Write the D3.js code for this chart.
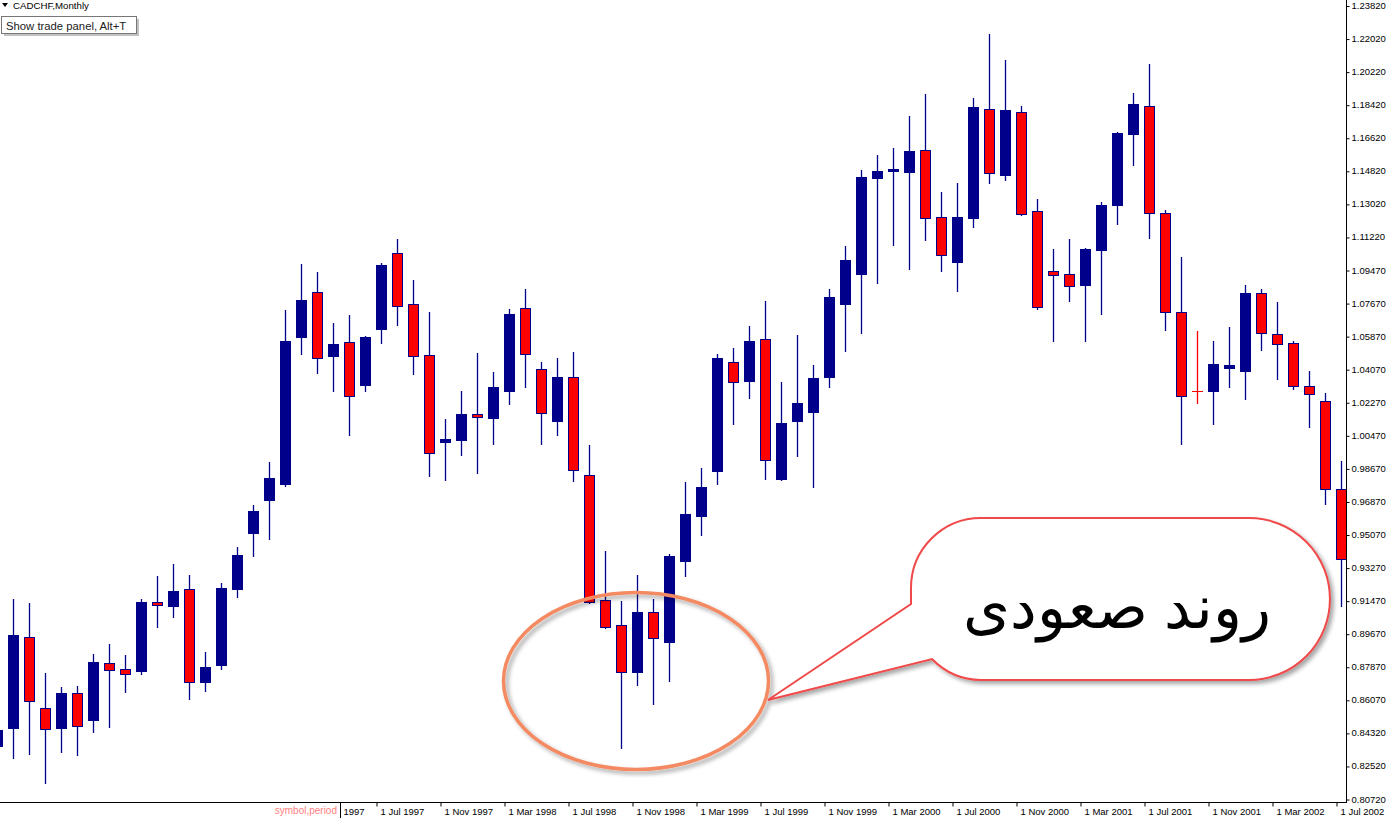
<!DOCTYPE html>
<html><head><meta charset="utf-8">
<script src="https://cdn.jsdelivr.net/npm/d3@7"></script>
<style>
html,body{margin:0;padding:0;background:#fff;overflow:hidden}
svg{display:block}
text{font-family:"Liberation Sans",Arial,sans-serif}
</style></head><body>
<svg id="chart" width="1386" height="818"></svg>
<script>
// ---- data (monthly CADCHF candles, Jul 1995 .. Jul 2002) ----
const firstMonth = "1995-07";
const lastMonth = "2002-07";
const openP = [0.8360,0.8457,0.8952,0.8566,0.8457,0.8648,0.8501,0.8810,0.8778,0.8767,
0.9142,0.9120,0.9212,0.8707,0.8800,0.9212,0.9517,0.9696,0.9783,1.0581,
1.0826,1.0478,1.0554,1.0321,1.0625,1.1038,1.0761,1.0484,1.0011,1.0022,
1.0163,1.0141,1.0288,1.0739,1.0408,1.0125,1.0364,0.9832,0.9153,0.9017,
0.8762,0.9088,0.8925,0.9365,0.9609,0.9853,1.0446,1.0342,1.0570,0.9810,
1.0125,1.0174,1.0364,1.0761,1.0924,1.1445,1.1483,1.1478,1.1597,1.1233,
1.0989,1.1228,1.1820,1.1461,1.1804,1.1266,1.0940,1.0924,1.0864,1.1054,
1.1298,1.1684,1.1836,1.1255,1.0717,1.0288,1.0288,1.0413,1.0397,1.0820,
1.0598,1.0549,1.0315,1.0234,0.9756];
const highP = [0.8474,0.9158,0.9136,0.8756,0.8680,0.8686,0.8859,0.8914,0.8854,0.9158,
0.9283,0.9348,0.9289,0.8870,0.9245,0.9441,0.9669,0.9902,1.0728,1.0978,
1.0934,1.0657,1.0701,1.0587,1.0983,1.1114,1.0891,1.0717,1.0136,1.0288,
1.0494,1.0391,1.0733,1.0842,1.0446,1.0467,1.0500,0.9995,0.9419,0.9147,
0.9289,0.9158,0.9403,0.9794,0.9870,1.0489,1.0522,1.0641,1.0777,1.0337,
1.0592,1.0429,1.0842,1.1076,1.1489,1.1570,1.1608,1.1782,1.1901,1.1369,
1.1418,1.1880,1.2227,1.2086,1.1836,1.1331,1.1059,1.1114,1.1065,1.1315,
1.1695,1.1907,1.2064,1.1271,1.1016,1.0614,1.0560,1.0636,1.0864,1.0842,
1.0771,1.0560,1.0397,1.0277,0.9908];
const lowP = [0.8327,0.8294,0.8316,0.8159,0.8327,0.8311,0.8436,0.8463,0.8653,0.8751,
0.9006,0.9060,0.8615,0.8658,0.8778,0.9169,0.9392,0.9484,0.9772,1.0489,
1.0386,1.0288,1.0049,1.0288,1.0549,1.0647,1.0380,0.9826,0.9805,0.9940,
0.9843,1.0000,1.0217,1.0310,1.0000,1.0049,0.9799,0.9136,0.9001,0.8349,
0.8691,0.8588,0.8713,0.9283,0.9506,0.9783,1.0109,1.0250,0.9810,0.9805,
0.9935,0.9767,1.0310,1.0505,1.0603,1.0875,1.1081,1.0951,1.1108,1.0940,
1.0831,1.1179,1.1418,1.1434,1.1244,1.0733,1.0560,1.0777,1.0560,1.0706,
1.1195,1.1516,1.1119,1.0619,1.0000,1.0223,1.0109,1.0310,1.0245,1.0511,
1.0353,1.0299,1.0092,0.9674,0.9120];
const closeP = [0.8447,0.8963,0.8604,0.8452,0.8648,0.8468,0.8816,0.8772,0.8751,0.9142,
0.9126,0.9202,0.8707,0.8789,0.9218,0.9397,0.9636,0.9815,1.0560,1.0782,
1.0467,1.0543,1.0261,1.0581,1.0972,1.0750,1.0478,0.9951,1.0027,1.0163,
1.0147,1.0310,1.0706,1.0489,1.0169,1.0364,0.9859,0.9142,0.9006,0.8762,
0.9088,0.8946,0.9392,0.9620,0.9767,1.0467,1.0337,1.0560,0.9913,1.0114,
1.0223,1.0359,1.0799,1.1000,1.1450,1.1483,1.1494,1.1592,1.1228,1.1027,
1.1233,1.1831,1.1472,1.1814,1.1249,1.0744,1.0918,1.0858,1.1059,1.1298,
1.1689,1.1847,1.1255,1.0717,1.0261,1.0288,1.0435,1.0429,1.0820,1.0603,
1.0543,1.0315,1.0272,0.9756,0.9375];
const yTickLabels = ["1.23820","1.22020","1.20220","1.18420","1.16620","1.14820","1.13020",
"1.11220","1.09470","1.07670","1.05870","1.04070","1.02270","1.00470","0.98670","0.96870",
"0.95070","0.93270","0.91470","0.89670","0.87870","0.86070","0.84320","0.82520","0.80720"];
const xTickMonths = ["1997-03","1997-07","1997-11","1998-03","1998-07","1998-11","1999-03",
"1999-07","1999-11","2000-03","2000-07","2000-11","2001-03","2001-07","2001-11","2002-03","2002-07"];
const symbolTitle = "CADCHF,Monthly";
const tooltipText = "Show trade panel, Alt+T";
const symbolPeriodText = "symbol,period";
const calloutText = "روند صعودی";

// ---- setup ----
const W = 1386, H = 818;
const plotRight = 1346, plotBottom = 802;
const BULL = "#00008b", BEAR = "#ff0000", OUTLINE = "#00008b";
const svg = d3.select("#chart");
const defs = svg.append("defs");
const sh = defs.append("filter").attr("id","shadow").attr("x","-20%").attr("y","-20%").attr("width","140%").attr("height","140%");
sh.append("feDropShadow").attr("dx",3).attr("dy",3).attr("stdDeviation",2.2).attr("flood-color","#000").attr("flood-opacity",0.35);
defs.append("clipPath").attr("id","timeClip").append("rect")
  .attr("x",341).attr("y",plotBottom).attr("width",W-341).attr("height",H-plotBottom);

svg.append("rect").attr("width",W).attr("height",H).attr("fill","#fff");

const parseM = d3.timeParse("%Y-%m");
const keyFmt = d3.timeFormat("%Y-%m");
const months = d3.timeMonth.range(parseM(firstMonth), d3.timeMonth.offset(parseM(lastMonth),1));
const keys = months.map(keyFmt);
const x = d3.scalePoint().domain(keys).range([-3, 1341]);
const y = d3.scaleLinear().domain([0.8072, 1.2382]).range([799, 5.5]);

const data = keys.map((k,i)=>({k, o:openP[i], h:highP[i], l:lowP[i], c:closeP[i]}));

// ---- candles ----
const cg = svg.append("g");
data.forEach(d=>{
  const cx = Math.round(x(d.k));
  const doji = d.o === d.c;
  const col = doji ? BEAR : OUTLINE;
  cg.append("line").attr("x1",cx+0.5).attr("x2",cx+0.5)
    .attr("y1",Math.round(y(d.h))).attr("y2",Math.round(y(d.l))+1)
    .attr("stroke",col).attr("stroke-width",1.3);
  if (doji) {
    const yy = Math.round(y(d.o))+0.5;
    cg.append("line").attr("x1",cx-5).attr("x2",cx+6).attr("y1",yy).attr("y2",yy)
      .attr("stroke",BEAR).attr("stroke-width",1);
  } else {
    const top = Math.round(y(Math.max(d.o,d.c)));
    const bot = Math.round(y(Math.min(d.o,d.c)));
    cg.append("rect").attr("x",cx-4.5).attr("y",top+0.5)
      .attr("width",10).attr("height",Math.max(bot-top,1))
      .attr("fill", d.c>d.o ? BULL : BEAR)
      .attr("stroke",OUTLINE).attr("stroke-width",1);
  }
});

// ---- right price axis ----
const tickVals = yTickLabels.map((t,i)=> y.domain()[1] - i*(y.domain()[1]-y.domain()[0])/(yTickLabels.length-1));
const yAxis = d3.axisRight(y).tickValues(tickVals).tickFormat((d,i)=>yTickLabels[i]).tickSize(3).tickPadding(2);
const ya = svg.append("g").attr("transform",`translate(${plotRight+0.5},0)`).call(yAxis);
ya.select(".domain").remove();
ya.selectAll("line").attr("stroke","#000").attr("transform","translate(0,0.5)");
ya.selectAll("text").attr("font-size",9.5).attr("fill","#000").attr("font-family","Liberation Sans, Arial, sans-serif");
svg.append("line").attr("x1",plotRight+0.5).attr("x2",plotRight+0.5).attr("y1",0).attr("y2",plotBottom+1).attr("stroke","#000");

// ---- bottom time axis ----
const labFmt = d3.timeFormat("%-d %b %Y");
const xAxis = d3.axisBottom(x).tickValues(xTickMonths).tickFormat(k=>labFmt(parseM(k))).tickSize(4).tickPadding(0);
const xa = svg.append("g").attr("clip-path","url(#timeClip)")
  .append("g").attr("transform",`translate(0,${plotBottom+0.5})`).call(xAxis);
xa.select(".domain").remove();
xa.selectAll("line").attr("stroke","#000").attr("transform","translate(-4.5,0)");
xa.selectAll("text").attr("text-anchor","start").attr("dx",-1).attr("dy",0).attr("y",12).attr("font-size",9.5).attr("fill","#000")
  .attr("font-family","Liberation Sans, Arial, sans-serif");
svg.append("line").attr("x1",0).attr("x2",plotRight+1).attr("y1",plotBottom+0.5).attr("y2",plotBottom+0.5).attr("stroke","#000");

// symbol,period box
svg.append("text").attr("x",337).attr("y",814).attr("text-anchor","end").attr("font-size",10).attr("fill","#ff7f7f").text(symbolPeriodText);
svg.append("line").attr("x1",340.5).attr("x2",340.5).attr("y1",plotBottom+1).attr("y2",H).attr("stroke","#000");

// ---- top-left labels ----
svg.append("path").attr("d","M2,3 L8,3 L5,7 Z").attr("fill","#000");
svg.append("text").attr("x",13).attr("y",8.5).attr("font-size",9.7).attr("fill","#000").text(symbolTitle);
svg.append("rect").attr("x",4).attr("y",19).attr("width",135).attr("height",17).attr("fill","#9a9a9a").attr("opacity",0.6);
svg.append("rect").attr("x",1.5).attr("y",16.5).attr("width",135).attr("height",17).attr("fill","#fff").attr("stroke","#767676");
svg.append("text").attr("x",6).attr("y",29.5).attr("font-size",11.3).attr("fill","#222").text(tooltipText);

// ---- annotations ----
svg.append("ellipse").attr("cx",636).attr("cy",681).attr("rx",132.5).attr("ry",88.5)
  .attr("fill","none").attr("stroke","#f38a62").attr("stroke-width",3.5).attr("filter","url(#shadow)");

const bubble = "M911,604 L911,588 A70,70 0 0 1 981,518 L1249,518 A81,81 0 0 1 1249,680 L981,680 A70,70 0 0 1 932,659 L768,700 Z";
svg.append("path").attr("d",bubble).attr("fill","#fff").attr("stroke","#f04a4a").attr("stroke-width",2).attr("filter","url(#shadow)");
svg.append("text").attr("x",1117).attr("y",628).attr("text-anchor","middle").attr("direction","rtl")
  .attr("font-family","DejaVu Sans, sans-serif").attr("font-size",60).attr("fill","#000").text(calloutText);
</script>
</body></html>
